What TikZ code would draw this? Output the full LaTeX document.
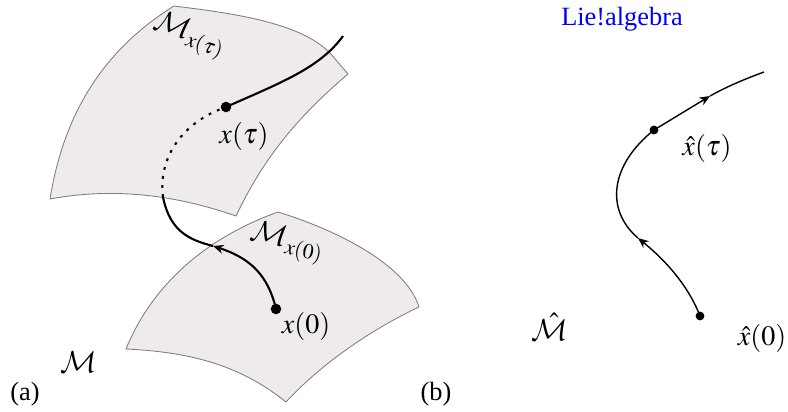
\documentclass[tikz,border=0pt]{standalone}
\usepackage{amsmath}
\usepackage{amssymb}
\usepackage{mathptmx}
\usepackage[no-math]{fontspec}
\setmainfont{Liberation Serif}
\usetikzlibrary{arrows.meta}
\DeclareMathAlphabet{\mancal}{OMS}{cmsy}{m}{n}
\definecolor{patchgray}{RGB}{239,235,235}
\begin{document}
\begin{tikzpicture}[x=0.02cm,y=-0.02cm,every node/.style={font=\fontsize{15}{18}\selectfont,inner sep=0pt},
patch/.style={fill=patchgray,draw=gray,line width=0.5pt,line join=round},
curve/.style={line width=1.2pt},
hatcurve/.style={line width=0.8pt},
tip/.style={-{Stealth[length=6pt,width=5pt]}},
mathlabel/.style={font=\fontsize{16}{18}\selectfont},
biglabel/.style={font=\fontsize{16.5}{18}\selectfont}]
\useasboundingbox (0,0) rectangle (788,412);
% upper patch
\draw[patch] (174,6) .. controls (230,13) and (300,22) .. (330,53) -- (348,74)
 .. controls (300,115) and (265,155) .. (236,216)
 .. controls (190,200) and (125,185) .. (50,199)
 .. controls (62,125) and (95,55) .. (174,6) -- cycle;
% lower patch
\draw[patch] (278,212) .. controls (330,228) and (405,262) .. (419,307)
 .. controls (370,330) and (320,365) .. (286,402)
 .. controls (240,365) and (190,352) .. (126,349)
 .. controls (150,290) and (200,240) .. (278,212) -- cycle;
% curve on the left
\coordinate (arrowa) at (213,246);
\coordinate (enter) at (163,197);
\node[circle,fill=black,minimum size=6pt] (xzero) at (276,309) {};
\node[circle,fill=black,minimum size=6pt] (xtau) at (226,107) {};
\coordinate (xend) at (343,36);
\draw[curve,tip] (xzero.center) .. controls (268,275) and (250,258) .. (arrowa);
\draw[curve] (arrowa) .. controls (190,240) and (170,232) .. (enter);
\draw[curve,dash pattern=on 1.6pt off 3.6pt] (enter) .. controls (158,160) and (180,125) .. (xtau);
\draw[curve] (xtau.center) .. controls (280,83) and (320,68) .. (xend);
% curve on the right
\node[circle,fill=black,minimum size=5pt] (hatzero) at (700,316) {};
\node[circle,fill=black,minimum size=5pt] (hattau) at (654,130) {};
\coordinate (arrowb) at (638,238);
\coordinate (arrowc) at (710,96);
\coordinate (hatend) at (764,72);
\draw[hatcurve,tip] (hatzero.center) .. controls (688,285) and (665,260) .. (arrowb);
\draw[hatcurve] (arrowb) .. controls (605,210) and (610,165) .. (hattau.center);
\draw[hatcurve,tip] (hattau.center) -- (arrowc);
\draw[hatcurve] (arrowc) .. controls (728,86) and (745,79) .. (hatend);
% labels
\node[biglabel] (mtau) at (189,36) [rotate=-18] {$\mancal{M}_{x(\tau)}$};
\node[biglabel] (mzero) at (287,243) [rotate=-12] {$\mancal{M}_{x(0)}$};
\node[biglabel] (mleft) at (79,362) {$\mancal{M}$};
\node[mathlabel] (ltau) at (244,136) {$x(\tau)$};
\node[mathlabel] (lzero) at (306,326) {$x(0)$};
\node[mathlabel] (hattaulabel) at (707,148) {$\hat{x}(\tau)$};
\node[mathlabel] (hatzerolabel) at (762,338) {$\hat{x}(0)$};
\node[biglabel] (hatm) at (550,327) {$\hat{\mancal{M}}$};
\node (capa) at (25,394) {(a)};
\node (capb) at (436,394) {(b)};
\node[text=blue] (lie) at (622,19) {Lie!algebra};
\end{tikzpicture}
\end{document}
